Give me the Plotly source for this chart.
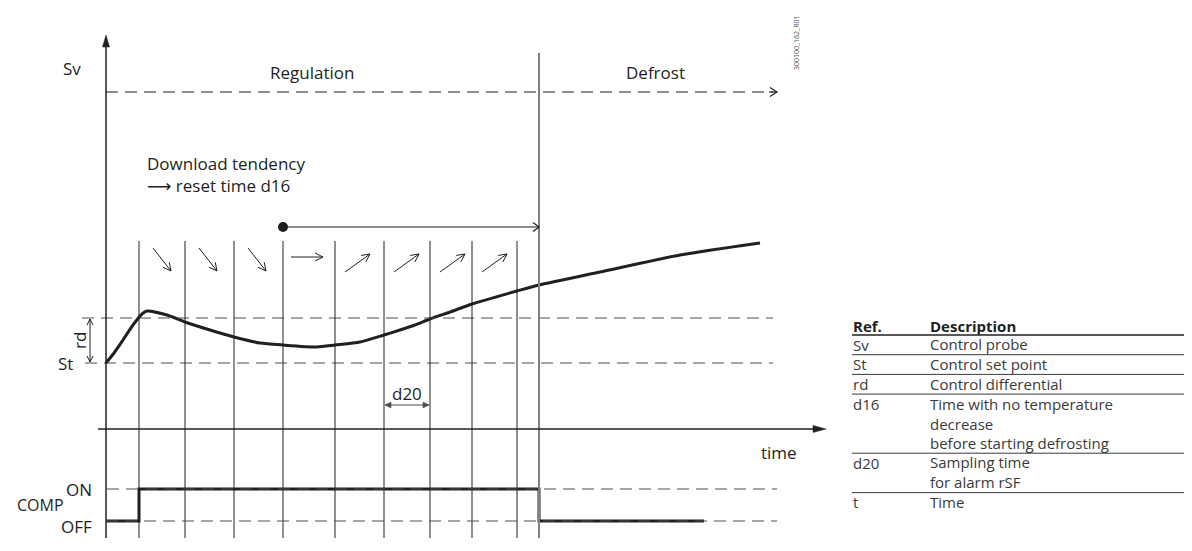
import math
import plotly.graph_objects as go

# ---------------- data ----------------
# time (t) is measured from the Sv axis, Sv value (v) from the set point St
sample_times = [33, 79, 128, 177, 229, 278, 324, 366, 411]   # d20 sampling instants
defrost_start = 433
trend = ["down", "down", "down", "flat", "up", "up", "up", "up"]
curve_t = [0, 8, 17, 27, 36, 41, 61, 79, 104, 128, 154, 177, 211, 229, 254, 278, 294, 309,
           324, 344, 366, 411, 433, 494, 574, 654]
curve_v = [0, 10, 23, 38, 49, 52, 48, 41, 33, 26, 20, 18, 16, 18, 21, 28, 33, 38,
           44, 51, 59, 72, 78, 91, 108, 120]
setpoint = 0
differential = 45
d16_start = 177
comp_t = [0, 33, 33, 433, 433, 598]
comp_state = [0, 0, 1, 1, 0, 0]
phase_labels = ["Regulation", "Defrost"]
table_refs = ["Sv", "St", "rd", "d16", "d20", "t"]
table_desc = ["Control probe", "Control set point", "Control differential",
              "Time with no temperature\ndecrease\nbefore starting defrosting",
              "Sampling time\nfor alarm rSF", "Time"]

# ---------------- layout geometry ----------------
PAGE_MARGIN = 8            # default body margin of the html page
W, H = 1192 - PAGE_MARGIN, 551 - PAGE_MARGIN
X0, Y0 = 106, 363          # page-pixel position of t=0, v=St
T_RANGE = [-(X0 - PAGE_MARGIN), W - (X0 - PAGE_MARGIN)]
V_RANGE = [(Y0 - PAGE_MARGIN) - H, Y0 - PAGE_MARGIN]
PX_OFF, PX_ON = 521 - PAGE_MARGIN, 489 - PAGE_MARGIN
C_UNIT = PX_OFF - PX_ON
C_RANGE = [(PX_OFF - H) / C_UNIT, PX_OFF / C_UNIT]

INK = "#231f20"
GRAY = "#4d4d4d"
FONT = "Open Sans, Noto Sans, DejaVu Sans, sans-serif"
FS = 17

axis_bottom = -175
sample_top = 122
defrost_top = 310
yaxis_top = 328
time_axis_v = -66
top_dash_v = 271
dash_end = 667
label_v = 291

shapes = []
annotations = []


def P(px, py):
    return px - X0, Y0 - py


def seg(x0, y0, x1, y1, color=INK, width=1, dash=None, yref="y"):
    line = dict(color=color, width=width)
    if dash:
        line["dash"] = dash
    shapes.append(dict(type="line", xref="x", yref=yref, x0=x0, y0=y0, x1=x1, y1=y1,
                       line=line, layer="above"))


def head(xt, yt, dx, dy, length, half, filled=True, color=INK, width=1):
    n = math.hypot(dx, dy)
    ux, uy = dx / n, dy / n
    bx, by = xt - length * ux, yt - length * uy
    px_, py_ = -uy, ux
    p1 = (bx + half * px_, by + half * py_)
    p2 = (bx - half * px_, by - half * py_)
    if filled:
        path = f"M {p1[0]},{p1[1]} L {xt},{yt} L {p2[0]},{p2[1]} Z"
        shapes.append(dict(type="path", xref="x", yref="y", path=path, fillcolor=color,
                           line=dict(color=color, width=0.5), layer="above"))
    else:
        path = f"M {p1[0]},{p1[1]} L {xt},{yt} L {p2[0]},{p2[1]}"
        shapes.append(dict(type="path", xref="x", yref="y", path=path,
                           line=dict(color=color, width=width), layer="above"))


def arrow(x0, y0, x1, y1, length=7, half=3.5, filled=False, color=INK, width=1, both=False):
    seg(x0, y0, x1, y1, color, width)
    head(x1, y1, x1 - x0, y1 - y0, length, half, filled, color, width)
    if both:
        head(x0, y0, x0 - x1, y0 - y1, length, half, filled, color, width)


def text(x, y, s, size=FS, xanchor="center", yanchor="middle", color=INK, angle=0,
         yref="y", xref="x", align="left"):
    annotations.append(dict(x=x, y=y, xref=xref, yref=yref, text=s, showarrow=False,
                            xanchor=xanchor, yanchor=yanchor, textangle=angle,
                            borderpad=0, align=align,
                            font=dict(family=FONT, size=size, color=color)))


# ---------------- diagram ----------------
fig = go.Figure()

# dashed reference lines
seg(-24, setpoint + differential, dash_end, setpoint + differential, GRAY, 1, "12px,7px")
seg(-21, setpoint, dash_end, setpoint, GRAY, 1, "12px,7px")
seg(0, top_dash_v, dash_end, top_dash_v, INK, 1.2, "12px,7px")
arrow(dash_end - 4, top_dash_v, dash_end + 4, top_dash_v, length=7, half=4.5, width=1.2)

# sampling lines
for t in sample_times:
    seg(t, axis_bottom, t, sample_top, INK, 1)
# defrost line
seg(defrost_start, axis_bottom, defrost_start, defrost_top, "#808080", 2)

# axes
seg(0, axis_bottom, 0, yaxis_top - 8, INK, 1.5)
head(0, yaxis_top, 0, 1, 12, 3.5, True)
seg(-8, time_axis_v, 712, time_axis_v, INK, 1.3)
head(720, time_axis_v, 1, 0, 13, 3.5, True)

# d16 marker
fig.add_trace(go.Scatter(x=[d16_start], y=[136], mode="markers",
                         marker=dict(size=10, color=INK), hoverinfo="skip"))
arrow(d16_start, 136, defrost_start, 136, length=6, half=4.5, width=1.2)

# trend arrows in each sampling cell
for left, tr in zip(sample_times, trend):
    if tr == "down":
        arrow(left + 14, 115, left + 32, 92, length=8, half=4)
    elif tr == "flat":
        arrow(left + 8, 106, left + 40, 106, length=8, half=4)
    else:
        arrow(left + 10, 91, left + 35, 109, length=8, half=4)

# rd and d20 double arrows
arrow(-16, setpoint + 1, -16, setpoint + differential - 1, length=6, half=3, filled=False,
      width=1, both=True)
arrow(sample_times[5] + 1, -42, sample_times[6] - 1, -42, length=6, half=3, filled=True,
      color=GRAY, width=1.2, both=True)

# Sv curve
fig.add_trace(go.Scatter(x=curve_t, y=curve_v, mode="lines",
                         line=dict(color=INK, width=3, shape="spline", smoothing=0.6),
                         hoverinfo="skip"))

# COMP signal
seg(1, 1, dash_end + 4, 1, GRAY, 1, "12px,7px", yref="y2")
seg(0, 0, dash_end + 4, 0, GRAY, 1, "12px,7px", yref="y2")
fig.add_trace(go.Scatter(x=comp_t, y=comp_state, mode="lines", yaxis="y2",
                         line=dict(color=INK, width=3), hoverinfo="skip"))

# labels
text(-34, 295, "Sv")
text(206, label_v, phase_labels[0])
text(549, label_v, phase_labels[1])
text(40, 200, "Download tendency", xanchor="left")
text(40, 178, "⟶ reset time d16", xanchor="left")
text(-41, setpoint, "St")
text(-27, 22, "rd", angle=-90)
text((sample_times[5] + sample_times[6]) / 2, -30, "d20")
text(673, -89, "time")
text(-13, 1, "ON", xanchor="right", yref="y2")
text(-13, -0.18, "OFF", xanchor="right", yref="y2")
text(-41, 0.5, "COMP", size=16, xanchor="right", yref="y2")
text(*P(796, 43), "300100_162_R01", size=7, angle=-90, color="#555")

# ---------------- table ----------------
TX_REF, TX_DESC, TX_END = 852, 929, 1192
LH = 19.7
TFS = 15
TCOL = "#3a3a3a"
text(*P(TX_REF, 326), "<b>Ref.</b>", size=TFS, xanchor="left")
text(*P(TX_DESC, 326), "<b>Description</b>", size=TFS, xanchor="left")
y_line = 335
seg(*P(TX_REF, y_line), *P(TX_END, y_line), INK, 1.5)
for ref, desc in zip(table_refs, table_desc):
    lines = desc.split("\n")
    row_h = LH * len(lines)
    text(*P(TX_REF, y_line + 9.5), ref, size=TFS, xanchor="left", color=TCOL)
    text(*P(TX_DESC, y_line + row_h / 2 - 0.5), "<br>".join(lines), size=TFS,
         xanchor="left", color=TCOL)
    y_line += row_h
    if ref != table_refs[-1]:
        seg(*P(TX_REF, y_line), *P(TX_END, y_line), TCOL, 1)

fig.update_layout(
    width=W, height=H, autosize=False,
    margin=dict(l=0, r=0, t=0, b=0, pad=0),
    paper_bgcolor="white", plot_bgcolor="white",
    showlegend=False, hovermode=False,
    xaxis=dict(range=T_RANGE, visible=False, fixedrange=True),
    yaxis=dict(range=V_RANGE, visible=False, fixedrange=True),
    yaxis2=dict(range=C_RANGE, visible=False, overlaying="y", fixedrange=True),
    shapes=shapes, annotations=annotations,
)

fig.write_html("out.html")
